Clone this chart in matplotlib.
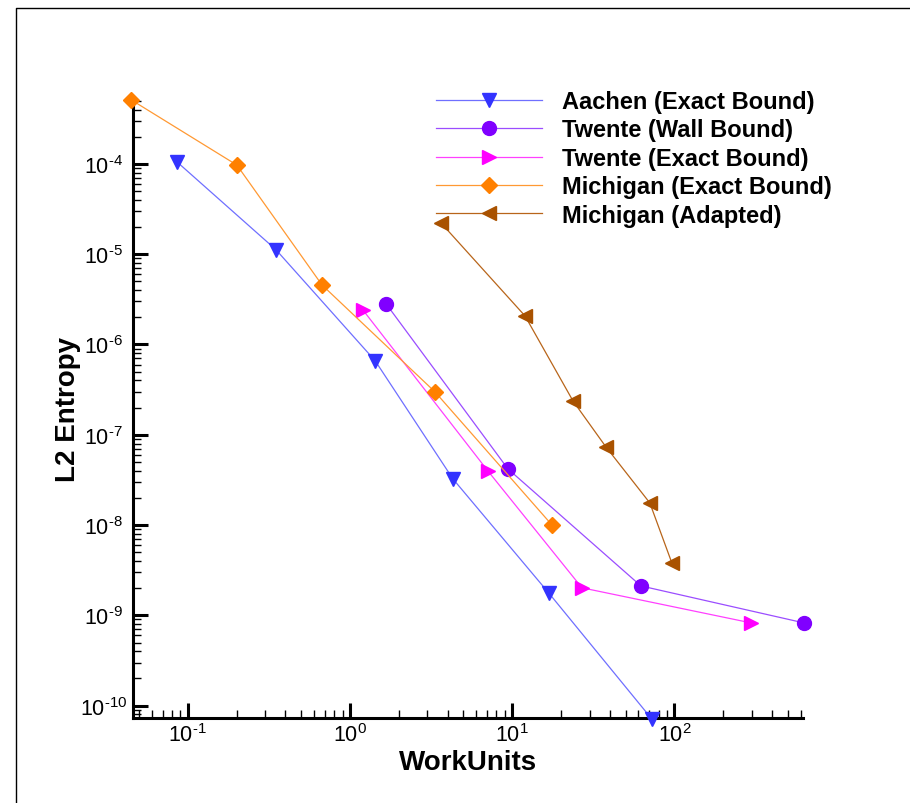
import matplotlib
matplotlib.use("Agg")
import numpy as np
import matplotlib.pyplot as plt
from matplotlib.lines import Line2D
from matplotlib.ticker import FuncFormatter, NullFormatter

plt.rcParams['font.family'] = ['Liberation Sans', 'DejaVu Sans']
plt.rcParams['mathtext.fontset'] = 'custom'
plt.rcParams['mathtext.rm'] = 'Liberation Sans'
plt.rcParams['mathtext.it'] = 'Liberation Sans'
plt.rcParams['mathtext.bf'] = 'Liberation Sans:bold'

# data (log-log)
aachen_x = [0.086, 0.35, 1.43, 4.31, 16.8, 72.6]
aachen_y = [1.05e-4, 1.12e-5, 6.6e-7, 3.25e-8, 1.77e-9, 7.1e-11]

twente_wall_x = [1.67, 9.41, 62.1, 627]
twente_wall_y = [2.82e-6, 4.19e-8, 2.12e-9, 8.26e-10]

twente_exact_x = [1.20, 7.08, 26.9, 296]
twente_exact_y = [2.42e-6, 3.98e-8, 2.02e-9, 8.26e-10]

michigan_exact_x = [0.045, 0.201, 0.672, 3.34, 17.6]
michigan_exact_y = [5.1e-4, 9.7e-5, 4.57e-6, 2.99e-7, 1.0e-8]

michigan_adapt_x = [3.64, 12.0, 23.7, 37.8, 70.5, 96.4]
michigan_adapt_y = [2.22e-5, 2.07e-6, 2.37e-7, 7.35e-8, 1.76e-8, 3.81e-9]

labels = ["Aachen (Exact Bound)", "Twente (Wall Bound)", "Twente (Exact Bound)",
          "Michigan (Exact Bound)", "Michigan (Adapted)"]


def pow10(v, pos):
    e = int(round(np.log10(v)))
    return r'$\mathregular{10^{\text{%d}}}$' % e


fig = plt.figure(figsize=(9.1, 8.04), dpi=100)
ax = fig.add_axes([133/910, 1-719/804, (803-133)/910, (719-101)/804])

lw = 0.9
ax.plot(aachen_x, aachen_y, color='#6f6fff', lw=lw, marker='v', ms=10,
        mfc='#3333ff', mec='#3333ff', label=labels[0], clip_on=False, zorder=3)
ax.plot(twente_wall_x, twente_wall_y, color='#9b4dff', lw=lw, marker='o', ms=10,
        mfc='#8000ff', mec='#8000ff', label=labels[1], clip_on=False, zorder=3)
ax.plot(twente_exact_x, twente_exact_y, color='#ff40ff', lw=lw, marker='>', ms=10,
        mfc='#ff00ff', mec='#ff00ff', label=labels[2], clip_on=False, zorder=3)
ax.plot(michigan_exact_x, michigan_exact_y, color='#ff9933', lw=lw, marker='D', ms=8,
        mfc='#ff8000', mec='#ff8000', label=labels[3], clip_on=False, zorder=3)
ax.plot(michigan_adapt_x, michigan_adapt_y, color='#b8651a', lw=lw, marker='<', ms=10,
        mfc='#a95200', mec='#a95200', label=labels[4], clip_on=False, zorder=3)

ax.set_xscale('log')
ax.set_yscale('log')
ax.set_xlim(0.046, 620)
ax.set_ylim(7.3e-11, 5.1e-4)
ax.xaxis.set_major_formatter(FuncFormatter(pow10))
ax.yaxis.set_major_formatter(FuncFormatter(pow10))
ax.xaxis.set_minor_formatter(NullFormatter())
ax.yaxis.set_minor_formatter(NullFormatter())

for s in ['top', 'right']:
    ax.spines[s].set_visible(False)
for s in ['left', 'bottom']:
    ax.spines[s].set_linewidth(2.2)

ax.tick_params(which='major', direction='in', length=11, width=2.2, labelsize=15.5)
ax.tick_params(which='minor', direction='in', length=6, width=1.0)
ax.tick_params(axis='y', which='major', pad=21)
ax.tick_params(axis='x', which='major', pad=4)
# tick labels centred beside the tick, like the original
plt.setp(ax.get_yticklabels(), ha='center')

ax.set_xlabel("WorkUnits", fontsize=20, fontweight='bold')
ax.set_ylabel("L2 Entropy", fontsize=20, fontweight='bold')
ax.xaxis.set_label_coords(0.5, -0.05)
ax.yaxis.set_label_coords(-0.077, 0.5)

ax.legend(loc='upper left', bbox_to_anchor=(436/910, 1-91/804),
          bbox_transform=fig.transFigure, frameon=False,
          prop={'weight': 'bold', 'size': 17}, handlelength=4.5,
          handletextpad=0.85, labelspacing=0.23, borderpad=0, borderaxespad=0)

# outer frame (partly cropped in the reference)
fig.add_artist(Line2D([16/910, 16/910, 1.0], [0.0, 1-9/804, 1-9/804],
                      transform=fig.transFigure, color='black', lw=1.0))

fig.savefig("out.png", dpi=100)
